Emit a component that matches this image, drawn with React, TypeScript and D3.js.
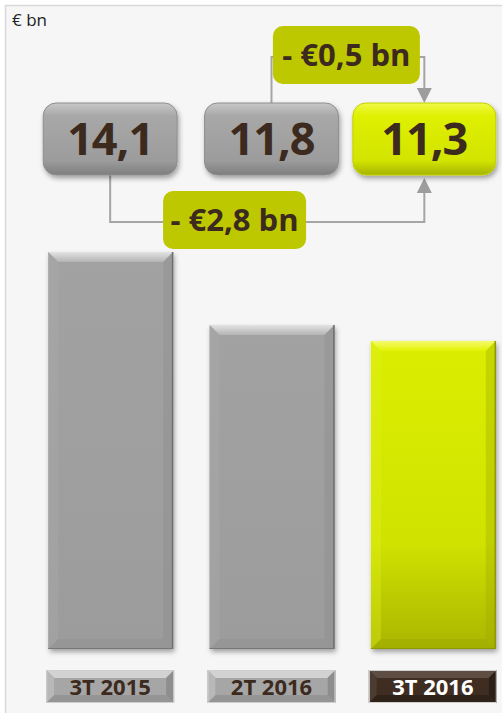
import React from 'react';
import * as d3 from 'd3';

// values
const categories = ['3T 2015', '2T 2016', '3T 2016'];
const values = [14.1, 11.8, 11.3];
const valueLabels = ['14,1', '11,8', '11,3'];
const highlight = '3T 2016';
const deltaFrom = ['2T 2016', '3T 2015'];
const deltaTo = ['3T 2016', '3T 2016'];
const deltaLabels = ['- €0,5 bn', '- €2,8 bn'];
const unitLabel = '€ bn';

const W = 502;
const H = 713;
const FONT = "'Open Sans', 'DejaVu Sans', sans-serif";
const TEXT = '#3b2a1d';

// layout of the connector annotations (y level, label position along the span)
const deltaLevel = [57, 222];
const deltaPos = [0.49, 0.396];
const deltaBox = [{ w: 147, h: 58 }, { w: 143, h: 58 }];

const bevel = (x: number, y: number, w: number, h: number, b: number) => ({
  top: `${x},${y} ${x + w},${y} ${x + w - b},${y + b} ${x + b},${y + b}`,
  bottom: `${x},${y + h} ${x + w},${y + h} ${x + w - b},${y + h - b} ${x + b},${y + h - b}`,
  left: `${x},${y} ${x + b},${y + b} ${x + b},${y + h - b} ${x},${y + h}`,
  right: `${x + w},${y} ${x + w - b},${y + b} ${x + w - b},${y + h - b} ${x + w},${y + h}`,
});

export default function App() {
  const x = d3.scaleBand<string>()
    .domain(categories)
    .range([30, 514])
    .paddingInner(0.226)
    .paddingOuter(0.113);
  // the original axis does not start at zero
  const y = d3.scaleLinear().domain([1.6, 14.1]).range([649, 252]);
  const bw = x.bandwidth();

  const boxTop = 103;
  const boxH = 72;
  const box = (c: string) => {
    const bx = x(c)!;
    return c === highlight ? { x: bx - 18, w: bw + 18 } : { x: bx - 5, w: bw + 9 };
  };
  const boxCx = (c: string) => { const b = box(c); return b.x + b.w / 2; };

  const labelTop = 670;
  const labelH = 33;

  return (
    <svg width={W} height={H} style={{ position: 'absolute', left: 0, top: 0 }} fontFamily={FONT}>
      <defs>
        <filter id="shadow" x="-20%" y="-20%" width="140%" height="140%">
          <feDropShadow dx="1.5" dy="3" stdDeviation="2.5" floodColor="#000" floodOpacity="0.35" />
        </filter>
        <linearGradient id="barGray" x1="0" y1="0" x2="0" y2="1">
          <stop offset="0%" stopColor="#a2a2a2" />
          <stop offset="100%" stopColor="#9c9c9c" />
        </linearGradient>
        <linearGradient id="barYellow" x1="0" y1="0" x2="0" y2="1">
          <stop offset="0%" stopColor="#dbee00" />
          <stop offset="65%" stopColor="#d0e300" />
          <stop offset="100%" stopColor="#a9b500" />
        </linearGradient>
        <linearGradient id="topGray" x1="0" y1="0" x2="0" y2="1">
          <stop offset="0%" stopColor="#e2e2e2" />
          <stop offset="100%" stopColor="#b4b4b4" />
        </linearGradient>
        <linearGradient id="topYellow" x1="0" y1="0" x2="0" y2="1">
          <stop offset="0%" stopColor="#f4fb70" />
          <stop offset="100%" stopColor="#e2f200" />
        </linearGradient>
        <linearGradient id="boxGray" x1="0" y1="0" x2="0" y2="1">
          <stop offset="0%" stopColor="#c8c8c8" />
          <stop offset="18%" stopColor="#a8a8a8" />
          <stop offset="80%" stopColor="#9c9c9c" />
          <stop offset="100%" stopColor="#7e7e7e" />
        </linearGradient>
        <linearGradient id="boxYellow" x1="0" y1="0" x2="0" y2="1">
          <stop offset="0%" stopColor="#f0fa48" />
          <stop offset="18%" stopColor="#dff000" />
          <stop offset="80%" stopColor="#d2e400" />
          <stop offset="100%" stopColor="#a6b400" />
        </linearGradient>
      </defs>

      <rect x={0} y={0} width={W} height={H} fill="#ffffff" />
      <rect x={5.5} y={5.5} width={W + 10} height={H + 10} fill="#f6f6f6" stroke="#d9d9d9" strokeWidth={1.5} />
      <text x={12} y={26} fontSize={17} fill="#222">{unitLabel}</text>

      {/* bars */}
      {categories.map((c, i) => {
        const bx = x(c)!;
        const by = y(values[i]);
        const bh = y.range()[0] - by;
        const bv = bevel(bx, by, bw, bh, 10);
        const hi = c === highlight;
        return (
          <g key={c}>
            <rect x={bx} y={by} width={bw} height={bh} fill={hi ? 'url(#barYellow)' : 'url(#barGray)'} filter="url(#shadow)" />
            <polygon points={bv.top} fill={hi ? 'url(#topYellow)' : 'url(#topGray)'} />
            <polygon points={bv.left} fill={hi ? '#e3f21e' : '#adadad'} opacity={0.35} />
            <polygon points={bv.right} fill={hi ? '#9eaa00' : '#8a8a8a'} opacity={0.35} />
            <polygon points={bv.bottom} fill={hi ? '#98a300' : '#8c8c8c'} opacity={0.35} />
            <line x1={bx + bw - 0.5} x2={bx + bw - 0.5} y1={by} y2={by + bh} stroke={hi ? '#8f9a00' : '#6e6e6e'} strokeWidth={1.5} />
            <line x1={bx} x2={bx + bw} y1={by + bh - 0.5} y2={by + bh - 0.5} stroke={hi ? '#8f9a00' : '#777'} strokeWidth={1} />
          </g>
        );
      })}

      {/* category labels */}
      {categories.map((c) => {
        const lx = x(c)! - 2;
        const lw = bw + 3;
        const bv = bevel(lx, labelTop, lw, labelH, 8);
        const hi = c === highlight;
        return (
          <g key={c}>
            <rect x={lx} y={labelTop} width={lw} height={labelH} fill={hi ? '#3f2d22' : '#a6a6a6'} />
            <polygon points={bv.top} fill={hi ? '#5e4d42' : '#d2d2d2'} />
            <polygon points={bv.left} fill={hi ? '#4c3b30' : '#b8b8b8'} />
            <polygon points={bv.right} fill={hi ? '#2c1f17' : '#8e8e8e'} />
            <polygon points={bv.bottom} fill={hi ? '#2f2219' : '#959595'} />
            <rect x={lx + 0.5} y={labelTop + 0.5} width={lw - 1} height={labelH - 1} fill="none" stroke="#cfcfcf" strokeWidth={1} />
            <rect x={lx + 8} y={labelTop + 8} width={lw - 16} height={labelH - 16} fill={hi ? '#3f2d22' : '#a6a6a6'} />
            <text x={lx + lw / 2} y={labelTop + labelH / 2 + 8} textAnchor="middle" fontSize={22} fontWeight={700}
              fill={hi ? '#ffffff' : TEXT}>{c}</text>
          </g>
        );
      })}

      {/* connectors */}
      {deltaLabels.map((lab, i) => {
        const x0 = boxCx(deltaFrom[i]);
        const x1 = boxCx(deltaTo[i]);
        const ly = deltaLevel[i];
        const up = ly < boxTop;
        const yStart = up ? boxTop : boxTop + boxH;
        const tip = up ? boxTop : boxTop + boxH + 3;
        const base = up ? tip - 15 : tip + 15;
        const cx = x0 + (x1 - x0) * deltaPos[i];
        const { w, h } = deltaBox[i];
        return (
          <g key={lab}>
            <path d={`M${x0},${yStart} V${ly} H${x1} V${base}`} fill="none" stroke="#a5a5a5" strokeWidth={2} />
            <polygon points={`${x1 - 7.5},${base} ${x1 + 7.5},${base} ${x1},${tip}`} fill="#9d9d9d" />
            <rect x={cx - w / 2} y={ly - 2 - h / 2} width={w} height={h} rx={10} fill="#bec800" />
            <text x={cx} y={ly - 2 + 11} textAnchor="middle" fontSize={31} fontWeight={700} fill={TEXT}>{lab}</text>
          </g>
        );
      })}

      {/* value boxes */}
      {categories.map((c, i) => {
        const b = box(c);
        const hi = c === highlight;
        return (
          <g key={c}>
            <rect x={b.x} y={boxTop} width={b.w} height={boxH} rx={13} fill={hi ? 'url(#boxYellow)' : 'url(#boxGray)'}
              stroke={hi ? '#c2d000' : '#8e8e8e'} strokeWidth={1} filter="url(#shadow)" />
            <text x={b.x + b.w / 2} y={boxTop + boxH / 2 + 16} textAnchor="middle" fontSize={45} fontWeight={700}
              letterSpacing={-1} fill={TEXT}>{valueLabels[i]}</text>
          </g>
        );
      })}
    </svg>
  );
}
